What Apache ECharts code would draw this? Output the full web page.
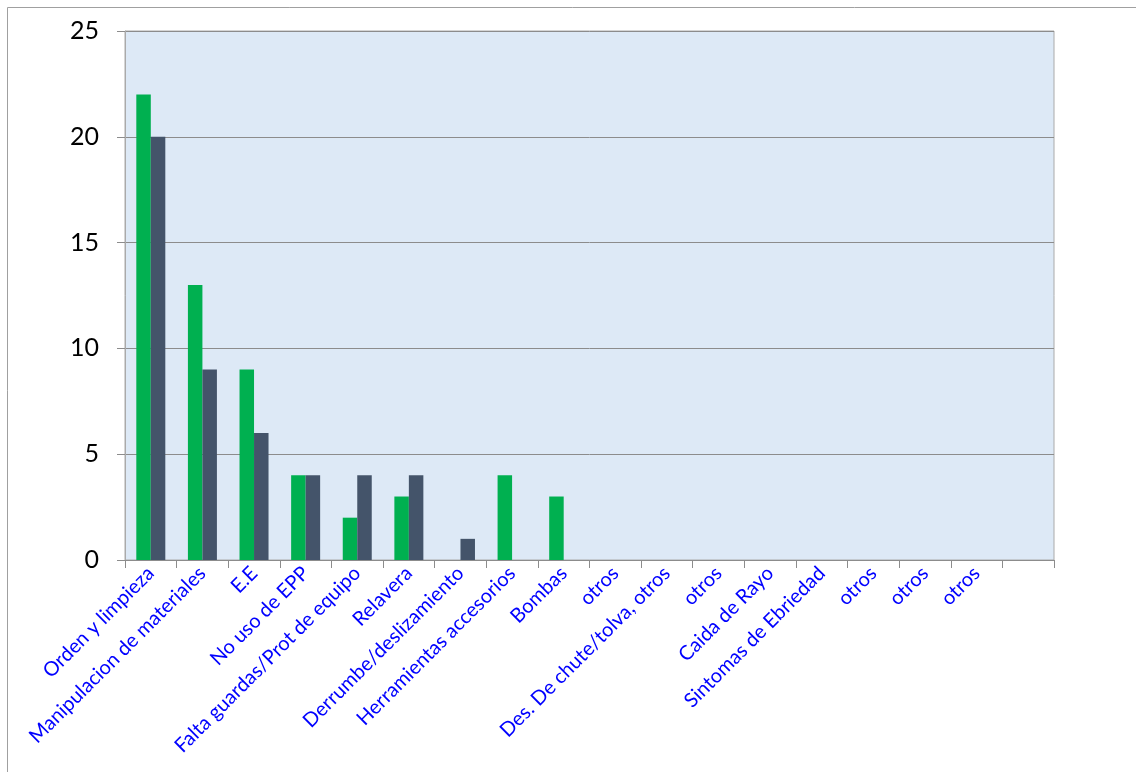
<!DOCTYPE html>
<html><head><meta charset="utf-8">
<script src="https://cdn.jsdelivr.net/npm/echarts@6/dist/echarts.min.js"></script>
<style>html,body{margin:0;padding:0;background:#fff}#c{width:1136px;height:772px}</style>
</head><body><div id="c"></div>
<script>
const categories = ['Orden y limpieza','Manipulacion de materiales','E.E','No uso de EPP','Falta guardas/Prot de equipo','Relavera','Derrumbe/deslizamiento','Herramientas accesorios','Bombas','otros','Des. De chute/tolva, otros','otros','Caida de Rayo','Sintomas de Ebriedad','otros','otros','otros',''];
const seriesGreen = [22,13,9,4,2,3,0,4,3,0,0,0,0,0,0,0,0,0];
const seriesDark  = [20,9,6,4,4,4,1,0,0,0,0,0,0,0,0,0,0,0];
const yTicks = {min:0, max:25, interval:5};

const chart = echarts.init(document.getElementById('c'), null, {renderer:'canvas'});
chart.setOption({
  animation:false,
  graphic:[{type:'rect', shape:{x:7.5,y:7.5,width:1200,height:900}, style:{fill:'none', stroke:'#a0a0a0', lineWidth:1}, z:-10}],
  grid:{left:125, right:82, top:31, bottom:212, show:true, backgroundColor:'#dde9f6', borderColor:'#aaaaaa', borderWidth:1},
  xAxis:{type:'category', data:categories,
    axisLine:{lineStyle:{color:'#8c8c8c', width:1}},
    axisTick:{show:true, length:8, alignWithLabel:false, lineStyle:{color:'#8c8c8c'}},
    axisLabel:{interval:0, rotate:45, color:'#0000ff', fontFamily:'Lato', fontSize:20, margin:10}},
  yAxis:{type:'value', min:yTicks.min, max:yTicks.max, interval:yTicks.interval,
    axisLine:{show:true, lineStyle:{color:'#aaaaaa'}},
    axisTick:{show:true, length:8, lineStyle:{color:'#8c8c8c'}},
    splitLine:{show:true, lineStyle:{color:'#8c8c8c', width:1}},
    axisLabel:{color:'#000', fontFamily:'Lato', fontSize:25, margin:26}},
  series:[
    {type:'bar', data:seriesGreen, barWidth:14.5, barGap:'0%', itemStyle:{color:'#00b050'}},
    {type:'bar', data:seriesDark, barWidth:14.5, barGap:'0%', itemStyle:{color:'#44546a'}}
  ]
});
</script></body></html>
